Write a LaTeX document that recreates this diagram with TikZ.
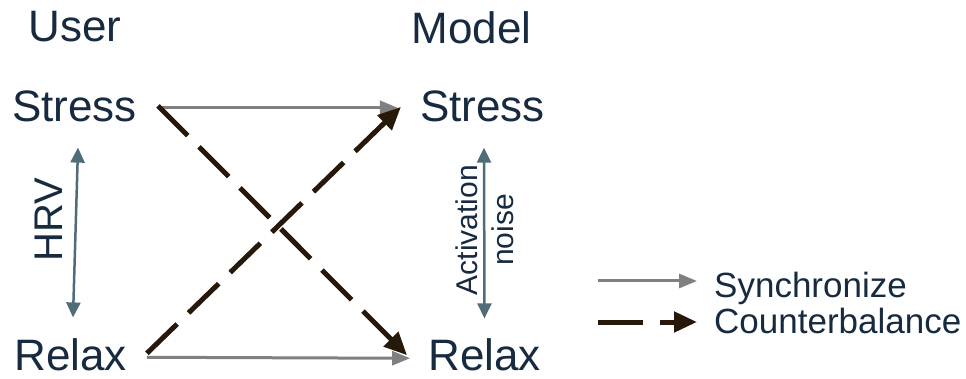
\documentclass[tikz,border=0pt]{standalone}
\usepackage{fontspec}
\setmainfont{Liberation Sans}
\usetikzlibrary{arrows.meta}
\definecolor{txtc}{HTML}{172A3F}
\definecolor{syncc}{HTML}{808080}
\definecolor{cbc}{HTML}{261909}
\definecolor{slatec}{HTML}{4F6C78}
\tikzset{
  bigtxt/.style={inner sep=0pt, text=txtc, font=\fontsize{44}{53}\selectfont, anchor=base},
  legtxt/.style={inner sep=0pt, text=txtc, font=\fontsize{35}{42}\selectfont, anchor=base west},
  vlabel/.style={inner sep=0pt, text=txtc, rotate=90, anchor=base},
  syncarrow/.style={draw=syncc, line width=3pt, -{Triangle[length=18pt,width=14pt]}},
  cbarrow/.style={draw=cbc, line width=5pt, line cap=butt, dash pattern=on 42pt off 16pt, -{Triangle[length=23pt,width=20pt]}},
  slatearrow/.style={draw=slatec, line width=2.5pt, {Triangle[length=15pt,width=14pt]}-{Triangle[length=15pt,width=14pt]}}
}
\begin{document}
\begin{tikzpicture}[x=1pt,y=-1pt]
\useasboundingbox (0,0) rectangle (966,379);
% headers
\node[bigtxt] (user) at (75,42) {User};
\node[bigtxt] (model) at (471.5,44) {Model};
% states
\node[bigtxt] (stressL) at (74.5,122) {Stress};
\node[bigtxt] (stressR) at (482.5,122) {Stress};
\node[bigtxt] (relaxL) at (70.5,370) {Relax};
\node[bigtxt] (relaxR) at (484.5,370) {Relax};
% vertical labels
\node[vlabel, font=\fontsize{40}{48}\selectfont] (hrv) at (62,220) {HRV};
\node[vlabel, font=\fontsize{30}{36}\selectfont] (act) at (477,230) {Activation};
\node[vlabel, font=\fontsize{30}{36}\selectfont] (noise) at (513,230) {noise};
% vertical arrows
\draw[slatearrow] ([xshift=3.5pt,yshift=-25pt]stressL.south) -- ([xshift=2.5pt,yshift=20.5pt]relaxL.north);
\draw[slatearrow] ([xshift=1.5pt,yshift=-25pt]stressR.south) -- ([yshift=19.5pt]relaxR.north);
% synchronize arrows
\draw[syncarrow] ([xshift=25pt,yshift=-1pt]stressL.east) -- ([xshift=-22pt,yshift=-1pt]stressR.west);
\draw[syncarrow] ([xshift=20pt,yshift=-3pt]relaxL.east) -- ([xshift=-18pt,yshift=-4pt]relaxR.west);
% counterbalance arrows
\draw[cbarrow] ([xshift=21pt,yshift=1pt]stressL.east) -- ([xshift=-21pt,yshift=-1pt]relaxR.west);
\draw[cbarrow] ([xshift=20pt,yshift=1pt]relaxL.east) -- ([xshift=-19pt]stressR.west);
% legend
\node[legtxt] (legsync) at (714,298) {Synchronize};
\node[legtxt] (legcb) at (714,333) {Counterbalance};
\coordinate (ls1) at (598,281);
\coordinate (ls2) at (697,281);
\coordinate (lc1) at (598,322);
\coordinate (lc2) at (697,322);
\draw[syncarrow] (ls1) -- (ls2);
\draw[cbarrow, dash pattern=on 45pt off 17pt] (lc1) -- (lc2);
\end{tikzpicture}
\end{document}
